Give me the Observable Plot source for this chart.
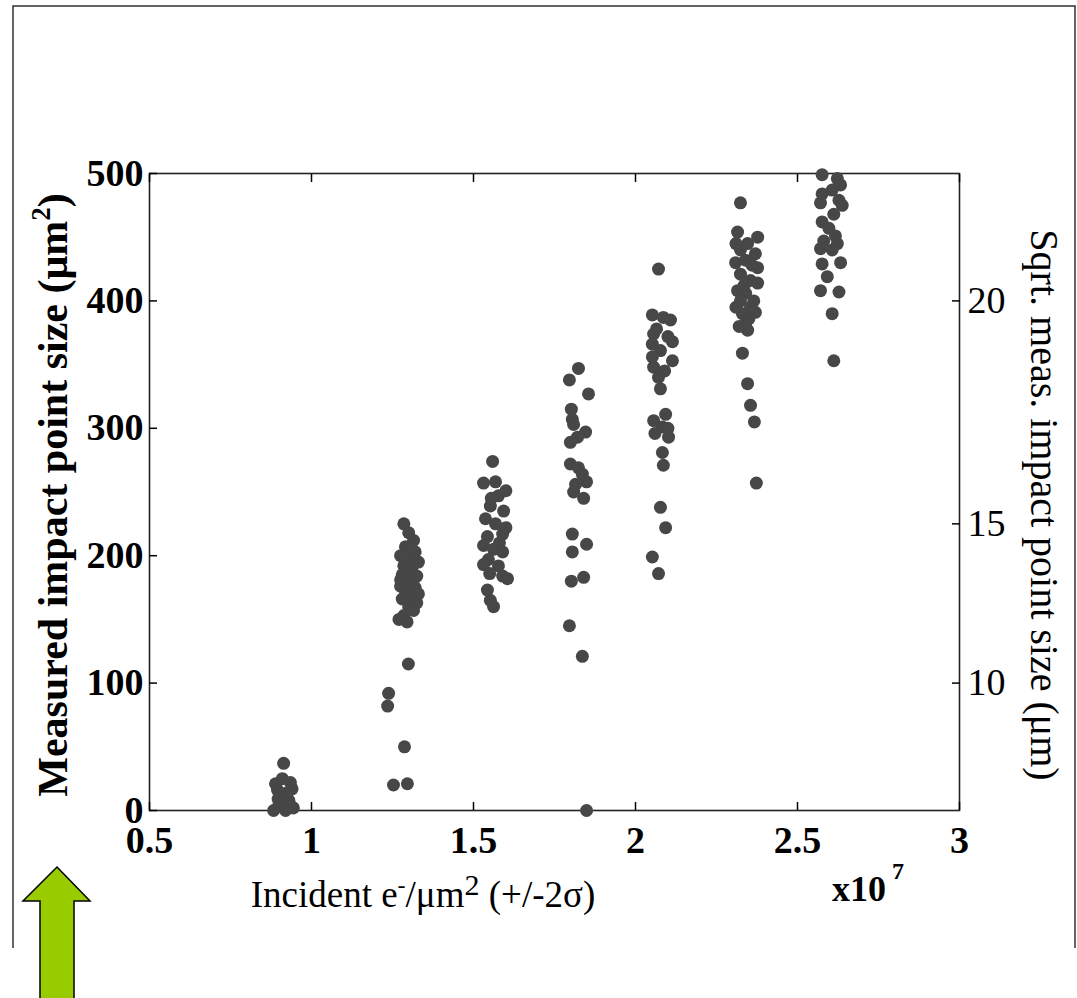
<!DOCTYPE html>
<html>
<head>
<meta charset="utf-8">
<script src="https://cdn.jsdelivr.net/npm/d3@7"></script>
<script src="https://cdn.jsdelivr.net/npm/@observablehq/plot@0.6"></script>
<style>
  html, body { margin: 0; padding: 0; background: #fff; }
  svg { display: block; }
</style>
</head>
<body>
<div id="chart"></div>
<script>
// ---- Data (incident dose in units of 10^7 e-/µm², measured size in µm²) ----
const cluster1X = [0.914,0.889,0.935,0.895,0.94,0.905,0.93,0.90,0.944,0.883,0.92,0.91,0.925,0.897,0.935];
const cluster1Y = [37,21,22,16,17,12,8,5,2,0,0,25,14,9,4];

const cluster2X = [1.235,1.238,1.253,1.287,1.296,1.299,
  1.285,1.30,1.315,1.29,1.32,1.275,1.305,1.33,1.285,1.31,1.295,1.325,1.275,1.30,1.32,1.29,1.31,1.28,1.325,1.30,1.315,1.285,1.27,1.295,1.33,1.28,1.31,1.275];
const cluster2Y = [82,92,20,50,21,115,
  225,218,212,207,203,200,198,195,192,190,186,184,181,178,175,172,168,166,163,160,157,153,150,148,170,185,205,176];

const cluster3X = [1.559,1.531,1.568,1.577,1.552,1.593,1.537,1.568,1.59,1.543,1.531,1.562,1.59,1.546,1.531,1.577,1.59,1.605,1.543,1.552,1.562,1.60,1.555,1.58,1.55,1.60];
const cluster3Y = [274,257,258,247,239,235,229,225,217,215,208,205,203,197,193,192,184,182,173,165,160,251,245,210,186,222];

const cluster4X = [1.824,1.796,1.855,1.802,1.805,1.809,1.846,1.821,1.799,1.799,1.824,1.836,1.849,1.815,1.809,1.84,1.805,1.849,1.805,1.802,1.84,1.796,1.836,1.849];
const cluster4Y = [347,338,327,315,307,303,297,293,289,272,269,264,258,256,250,245,217,209,203,180,183,145,121,0];

const cluster5X = [2.071,2.052,2.086,2.108,2.056,2.052,2.114,2.077,2.052,2.114,2.056,2.071,2.077,2.056,2.093,2.083,2.102,2.083,2.086,2.077,2.093,2.052,2.071,2.10,2.065,2.09,2.06,2.10];
const cluster5Y = [425,389,387,385,374,366,368,361,356,353,348,340,331,306,311,301,293,281,271,238,222,199,186,372,378,345,296,300];

const cluster6X = [2.324,2.315,2.377,2.346,2.324,2.370,2.309,2.340,2.377,2.324,2.355,2.377,2.315,2.340,2.324,2.355,2.370,2.330,2.340,2.346,2.330,2.346,2.355,2.367,2.373,2.31,2.36,2.335,2.365,2.31,2.35,2.32];
const cluster6Y = [477,454,450,445,440,437,430,432,426,421,416,414,408,406,400,395,391,390,382,377,359,335,318,305,257,445,428,412,400,395,386,380];

const cluster7X = [2.576,2.623,2.633,2.607,2.576,2.628,2.571,2.638,2.612,2.576,2.597,2.617,2.581,2.623,2.571,2.607,2.576,2.633,2.592,2.571,2.628,2.607,2.612];
const cluster7Y = [499,496,491,487,484,479,477,475,468,462,457,451,447,445,441,440,429,430,419,408,407,390,353];

// ---- Ticks ----
const xTicks = [0.5, 1, 1.5, 2, 2.5, 3];
const xTickLabels = ["0.5", "1", "1.5", "2", "2.5", "3"];
const yTicks = [0, 100, 200, 300, 400, 500];
const sqrtTicks = [10, 15, 20];

// ---- Build table ----
const clustersX = [cluster1X, cluster2X, cluster3X, cluster4X, cluster5X, cluster6X, cluster7X];
const clustersY = [cluster1Y, cluster2Y, cluster3Y, cluster4Y, cluster5Y, cluster6Y, cluster7Y];
const points = clustersX.flatMap((xs, c) => xs.map((x, i) => ({x, y: clustersY[c][i]})));

const serif = "'Liberation Serif', 'Times New Roman', Times, serif";

const chart = Plot.plot({
  width: 1077,
  height: 998,
  marginLeft: 149,
  marginRight: 118,
  marginTop: 173,
  marginBottom: 188,
  style: {fontFamily: serif, background: "#fff", color: "#000", overflow: "visible"},
  x: {domain: [0.5, 3], label: null},
  y: {domain: [0, 500], label: null},
  marks: [
    Plot.frame({stroke: "#222", strokeWidth: 1.6}),
    Plot.axisX({anchor: "bottom", ticks: xTicks, tickFormat: d => xTickLabels[xTicks.indexOf(d)],
      tickSize: -8, tickPadding: 24, strokeWidth: 1.5, fontSize: 38, fontWeight: "bold", label: null}),
    Plot.axisX({anchor: "top", ticks: xTicks, tickSize: -8, strokeWidth: 1.5, fill: "none", label: null}),
    Plot.axisY({anchor: "left", ticks: yTicks, tickSize: -8, tickPadding: 14, strokeWidth: 1.5,
      fontSize: 38, fontWeight: "bold", label: null}),
    Plot.axisY({anchor: "right", ticks: sqrtTicks.map(s => s * s), tickFormat: d => String(Math.round(Math.sqrt(d))),
      tickSize: -8, tickPadding: 16, strokeWidth: 1.5, fontSize: 38, label: null}),
    Plot.dot(points, {x: "x", y: "y", r: 6.5, fill: "#474747", stroke: null})
  ]
});

document.getElementById("chart").appendChild(chart);

// ---- Decorations and axis titles ----
const svg = d3.select(chart);

// outer border (open at bottom)
svg.insert("path", ":first-child")
  .attr("d", "M13,948V6H1075V948")
  .attr("fill", "none").attr("stroke", "#333").attr("stroke-width", 1.5);

// green arrow
svg.append("path")
  .attr("d", "M57,867L90,901H74V1000H40V901H23Z")
  .attr("fill", "#99cc00").attr("stroke", "#000").attr("stroke-width", 1.5);

// left axis title
const lt = svg.append("text")
  .attr("transform", "translate(67,495) rotate(-90)")
  .attr("text-anchor", "middle")
  .attr("font-family", serif).attr("font-size", 42).attr("font-weight", "bold").attr("fill", "#000");
lt.append("tspan").text("Measured impact point size (\u03bcm");
lt.append("tspan").attr("dy", -17).attr("font-size", 27).text("2");
lt.append("tspan").attr("dy", 17).text(")");

// right axis title
svg.append("text")
  .attr("transform", "translate(1031,505) rotate(90)")
  .attr("text-anchor", "middle")
  .attr("font-family", serif).attr("font-size", 40).attr("fill", "#000")
  .text("Sqrt. meas. impact point size (\u03bcm)");

// x axis title
const xt = svg.append("text")
  .attr("x", 423).attr("y", 907)
  .attr("text-anchor", "middle")
  .attr("font-family", serif).attr("font-size", 37).attr("fill", "#000");
xt.append("tspan").text("Incident e");
xt.append("tspan").attr("dy", -14).attr("font-size", 24).text("-");
xt.append("tspan").attr("dy", 14).text("/\u03bcm");
xt.append("tspan").attr("dy", -12).attr("font-size", 30).text("2");
xt.append("tspan").attr("dy", 12).text(" (+/-2\u03c3)");

// exponent label
const et = svg.append("text")
  .attr("x", 868).attr("y", 901)
  .attr("font-family", serif).attr("font-size", 36).attr("font-weight", "bold").attr("fill", "#000");
et.append("tspan").text("x10");
et.append("tspan").attr("dx", 6).attr("dy", -22).attr("font-size", 24).text("7");
</script>
</body>
</html>
